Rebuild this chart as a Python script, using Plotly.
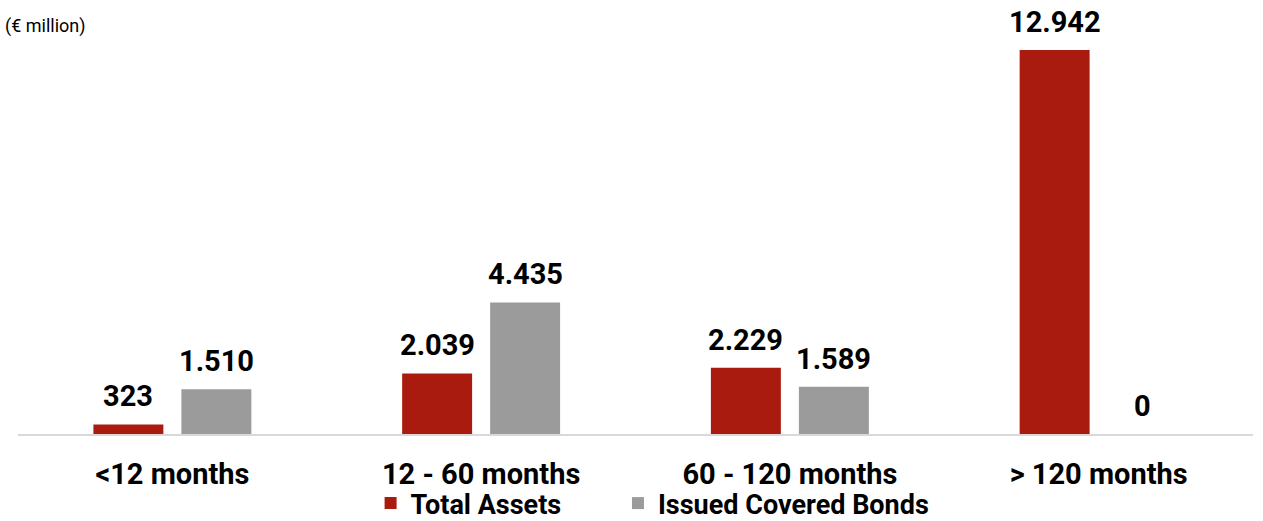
import plotly.graph_objects as go

categories = ["<12 months", "12 - 60 months", "60 - 120 months", "> 120 months"]
total_assets = [323, 2039, 2229, 12942]
issued_covered_bonds = [1510, 4435, 1589, 0]
series_names = ["Total Assets", "Issued Covered Bonds"]
colors = ["#A91B0E", "#9B9B9B"]
unit_label = "(€ million)"

FONT = "Roboto"
legend_ids = ["legend", "legend2"]
legend_x = [0.2855, 0.4858]

def fmt(v):
    return f"{v:,}".replace(",", ".")

fig = go.Figure()
annotations = []
series = [total_assets, issued_covered_bonds]
for i, (name, vals, col) in enumerate(zip(series_names, series, colors)):
    fig.add_trace(go.Bar(
        name=name, x=categories, y=vals, marker=dict(color=col, line=dict(width=0)),
        legend=legend_ids[i], showlegend=True,
    ))
    shift = -44 if i == 0 else 44
    for c, v in zip(categories, vals):
        annotations.append(dict(
            x=c, y=v, xref="x", yref="y", text=fmt(v), showarrow=False,
            xanchor="center", yanchor="bottom", xshift=shift, yshift=9,
            font=dict(family=FONT, size=29, color="#000000", weight="bold"),
        ))

annotations.append(dict(
    text=unit_label, xref="paper", yref="paper", x=-0.0125, y=0.985,
    xanchor="left", yanchor="middle", showarrow=False,
    font=dict(family=FONT, size=18, color="#000000"),
))

legend_style = dict(
    orientation="h", xanchor="left", y=-0.168, yanchor="middle",
    font=dict(family=FONT, size=27, color="#000000", weight="bold"),
    bgcolor="rgba(0,0,0,0)",
)

fig.update_layout(
    width=1263, height=521,
    showlegend=True,
    barmode="group", bargap=0.43, bargroupgap=0.205,
    plot_bgcolor="white", paper_bgcolor="white",
    margin=dict(l=17.5, r=9.5, t=20, b=87, autoexpand=False),
    font=dict(family=FONT, color="#000000"),
    xaxis=dict(
        showline=True, linecolor="#D9D9D9", linewidth=2, ticks="",
        tickfont=dict(family=FONT, size=29, color="#000000", weight="bold"),
        ticklabelstandoff=13, showgrid=False, automargin=False,
    ),
    yaxis=dict(range=[0, 13950], visible=False, showgrid=False, automargin=False),
    legend=dict(x=legend_x[0], **legend_style),
    legend2=dict(x=legend_x[1], **legend_style),
    annotations=annotations,
)

fig.write_html("out.html", config={"displayModeBar": False},
               post_script="document.body.style.margin='0px';")
